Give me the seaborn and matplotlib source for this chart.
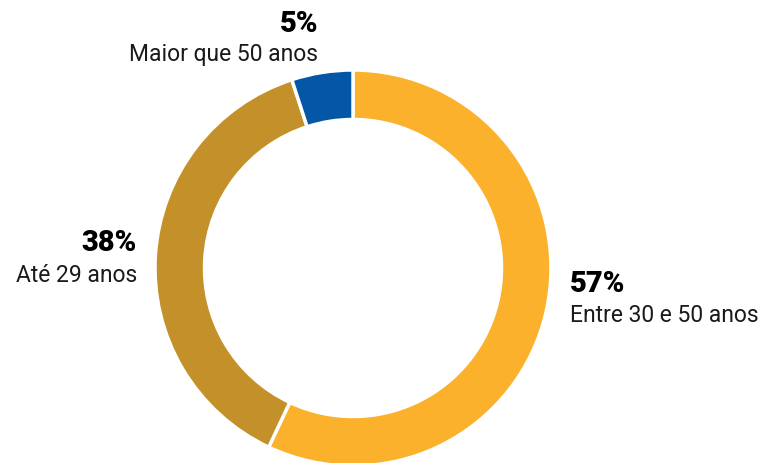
import seaborn as sns
import matplotlib.pyplot as plt

faixas = ['Entre 30 e 50 anos', 'Até 29 anos', 'Maior que 50 anos']
percentuais = [57, 38, 5]
cores = ['#FBB12B', '#C39029', '#0357A6']

sns.set_theme(style='white')
plt.rcParams['font.family'] = ['Roboto', 'DejaVu Sans']

fig = plt.figure(figsize=(7.69, 4.64), dpi=100)

# anel centrado em (353, 269) px com raio 198 px
cx, cy, r = 353, 269, 198
ax = fig.add_axes([(cx - r) / 769, (464 - cy - r) / 464, 2 * r / 769, 2 * r / 464])

ax.pie(
    percentuais,
    colors=cores,
    startangle=90,
    counterclock=False,
    wedgeprops={'width': 0.25, 'edgecolor': 'white', 'linewidth': 2.5}
)
ax.set_xlim(-1, 1)
ax.set_ylim(-1, 1)
ax.axis('off')

# rotulos: (x, y do percentual, y do texto, alinhamento)
posicoes = [
    (570, 284, 316, 'left'),
    (137, 243, 276, 'right'),
    (318, 24, 55, 'right'),
]

for faixa, pct, (x, y1, y2, ha) in zip(faixas, percentuais, posicoes):
    fig.text(x / 769, 1 - y1 / 464, f'{pct}%', ha=ha, va='center',
             fontsize=21, fontweight='black', color='black')
    fig.text(x / 769, 1 - y2 / 464, faixa, ha=ha, va='center',
             fontsize=16.5, color='#1a1a1a')

plt.savefig('out.png', dpi=100)
plt.close()
